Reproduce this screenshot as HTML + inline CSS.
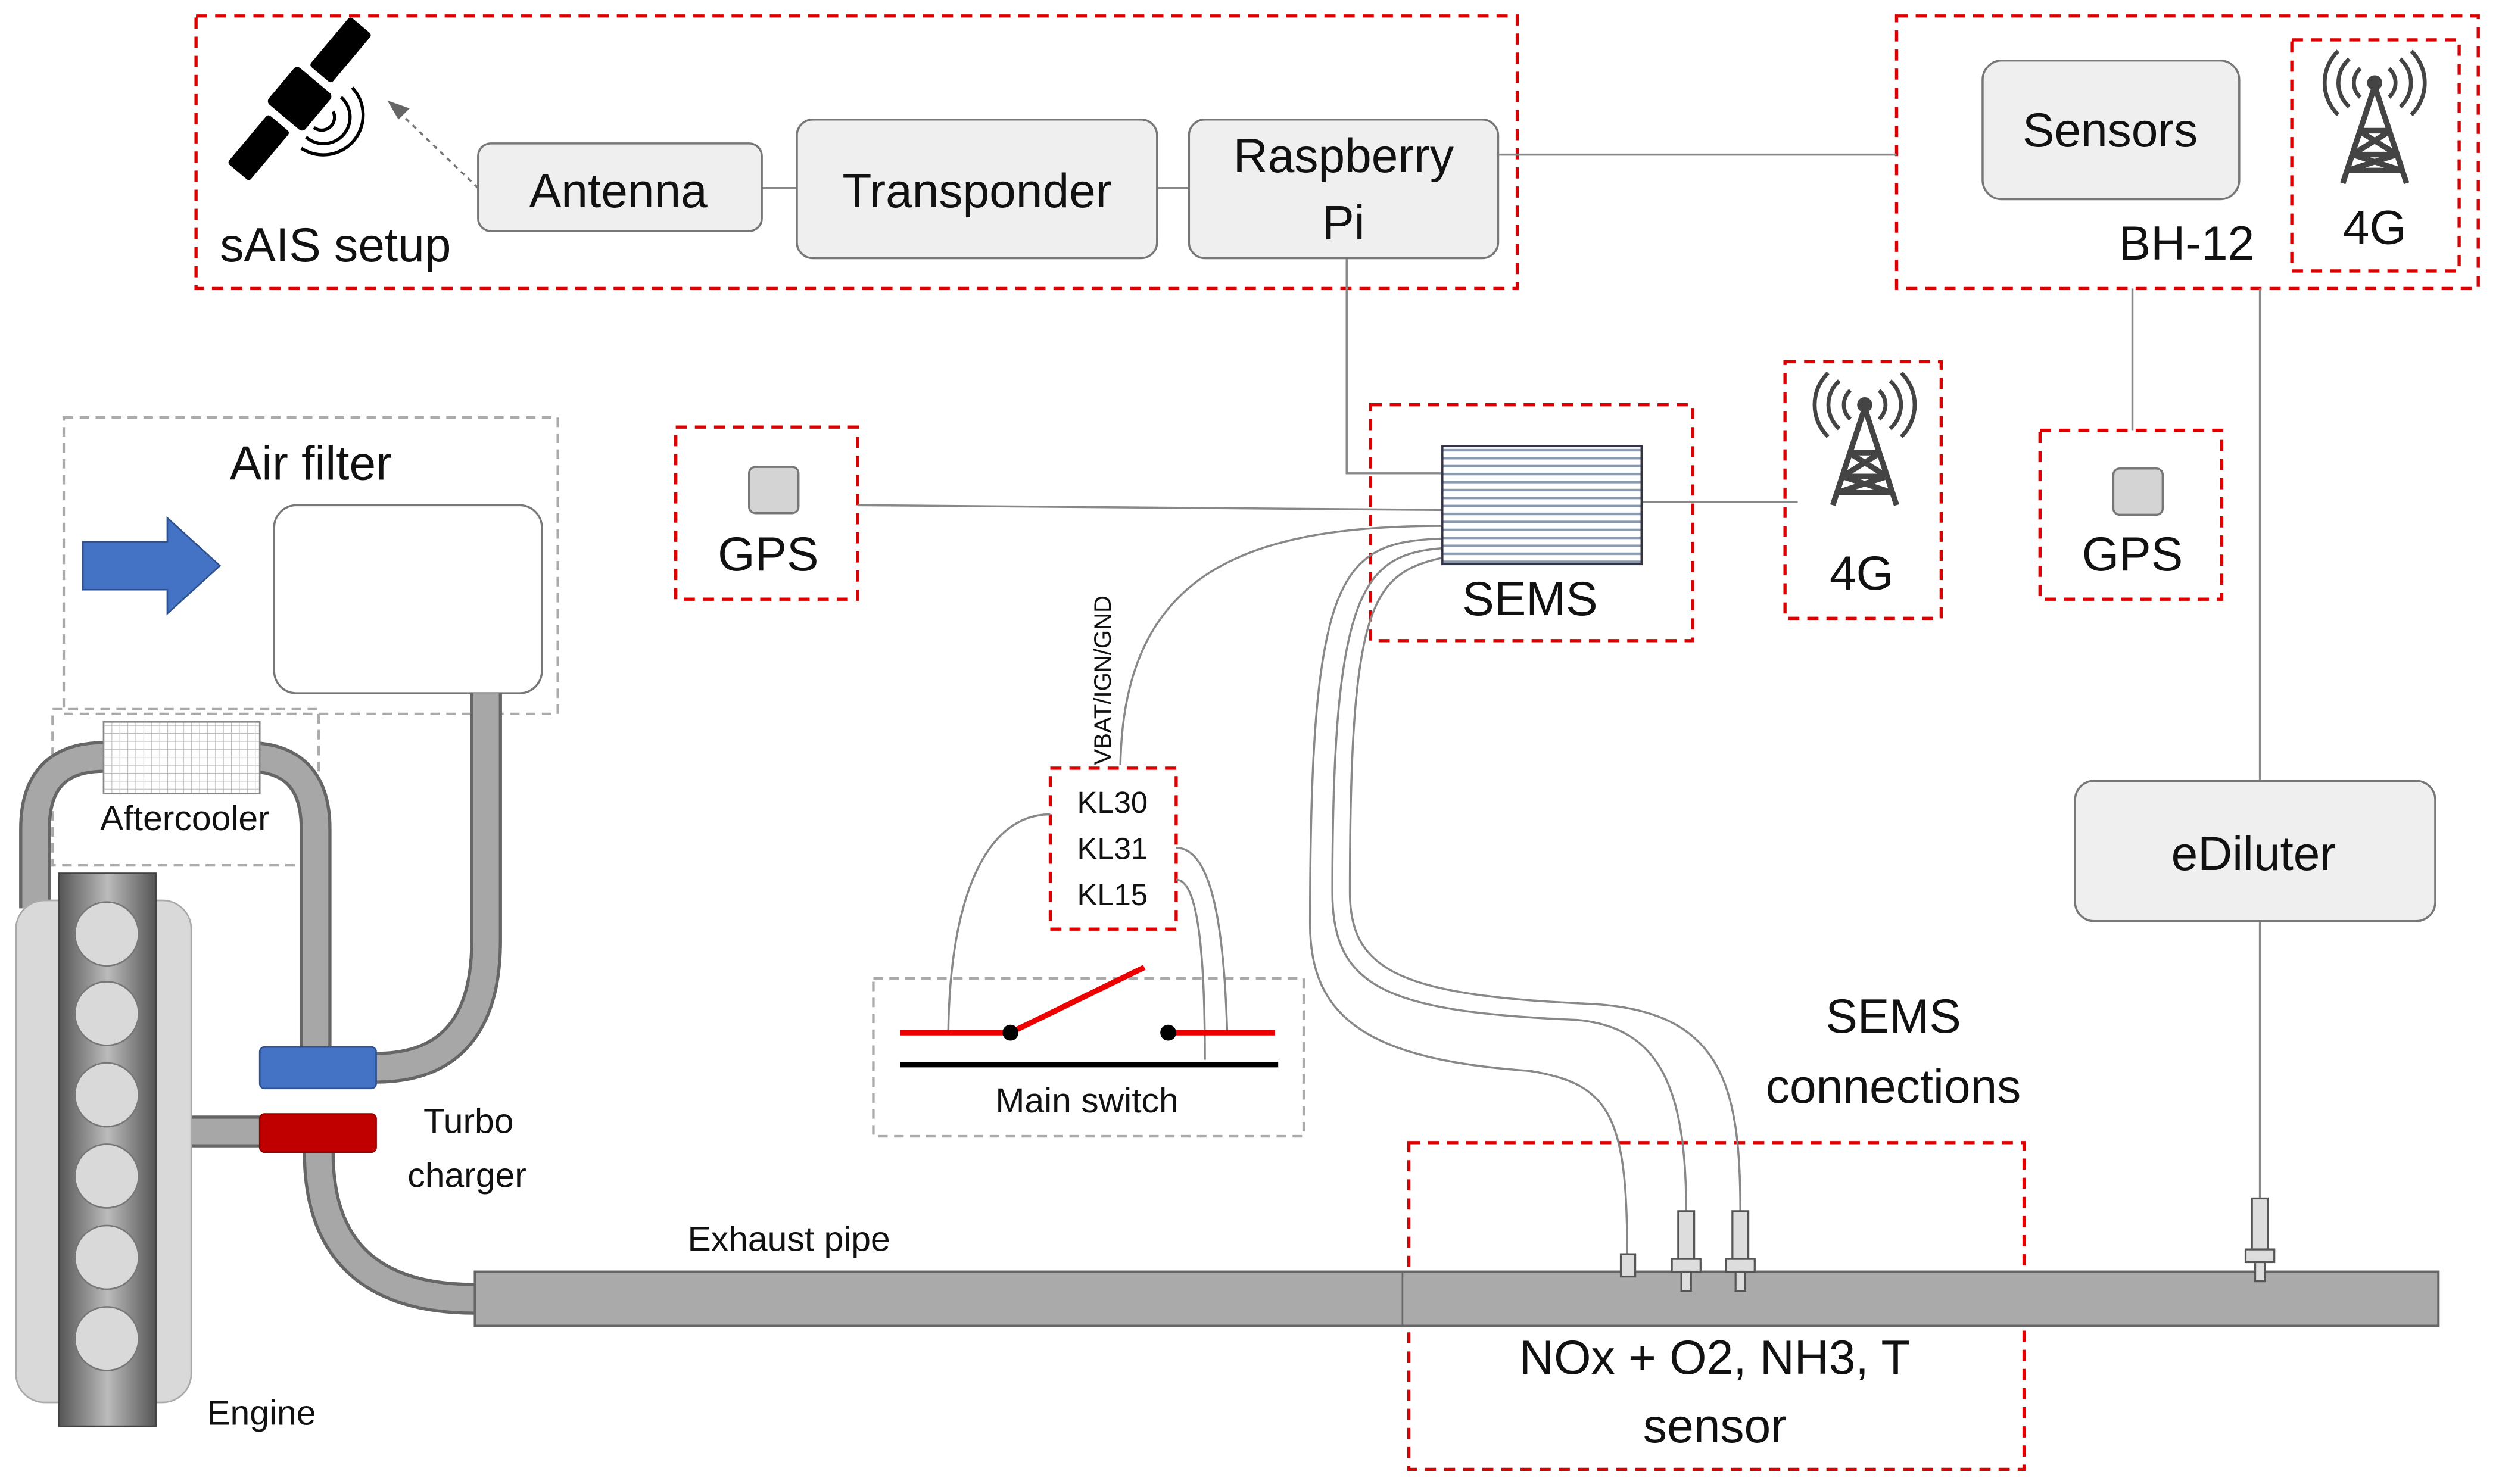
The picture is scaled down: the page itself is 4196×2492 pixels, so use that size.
<!DOCTYPE html>
<html><head><meta charset="utf-8"><style>
html,body{margin:0;padding:0;background:#fff;width:4196px;height:2492px;overflow:hidden}
svg{display:block}
text{font-family:"Liberation Sans","DejaVu Sans",sans-serif;fill:#111}
</style></head><body>
<svg width="4196" height="2492" viewBox="0 0 1568 931.2" preserveAspectRatio="none" xmlns="http://www.w3.org/2000/svg">
<defs>
<pattern id="mesh" width="5" height="5" patternUnits="userSpaceOnUse"><rect width="5" height="5" fill="#fff"/><path d="M0 0H5M0 0V5" stroke="#bbb" stroke-width="0.8"/></pattern>
<pattern id="stripe" width="10" height="5" patternUnits="userSpaceOnUse"><rect width="10" height="5" fill="#fff"/><path d="M0 2.5H10" stroke="#8a9ab0" stroke-width="1.6"/></pattern>
<linearGradient id="eng" x1="0" x2="1"><stop offset="0" stop-color="#555"/><stop offset="0.5" stop-color="#bbb"/><stop offset="1" stop-color="#555"/></linearGradient>
<g id="tower" fill="none" stroke="#444" stroke-width="3.5">
<path d="M0 -6 L-20 55 M0 -6 L20 55 M-14 37 L14 37 M-17 47 L17 47 M-10 22 L10 22 M-10 22 L14 37 M10 22 L-14 37 M-14 37 L17 47 M14 37 L-17 47"/>
<circle cx="0" cy="-8" r="3" fill="#444"/>
<path d="M-9 -17 A12 12 0 0 0 -9 1 M9 -17 A12 12 0 0 1 9 1 M-16 -23 A20 20 0 0 0 -16 7 M16 -23 A20 20 0 0 1 16 7 M-23 -28 A28 28 0 0 0 -23 12 M23 -28 A28 28 0 0 1 23 12" stroke-width="2.5"/>
</g>
</defs>
<g fill="none" stroke="#d00" stroke-width="2" stroke-dasharray="7,5">
<rect x="123" y="10" width="829" height="171"/>
<rect x="1190" y="10" width="365" height="171"/>
<rect x="1438" y="25" width="105" height="145"/>
<rect x="860" y="254" width="202" height="148"/>
<rect x="1120" y="227" width="98" height="161"/>
<rect x="424" y="268" width="114" height="108"/>
<rect x="1280" y="270" width="114" height="106"/>
<rect x="659" y="482" width="79" height="101"/>
<rect x="884" y="717" width="386" height="205"/>
</g>
<g fill="none" stroke="#aaa" stroke-width="1.6" stroke-dasharray="6,4">
<rect x="40" y="262" width="310" height="186"/>
<rect x="33" y="445" width="167" height="98"/>
<rect x="548" y="614" width="270" height="99"/>
</g>
<!-- connectors -->
<g fill="none" stroke="#888" stroke-width="1.3">
<path d="M478 118H500M726 118H746M940 97H1190M845 162V297H905M538 317L905 320M1030 315H1128M1338 181V270M1418 181V490M1418 578V760"/>
<path d="M905 330 C780 330 705 360 703 480"/>
<path d="M905 338 C840 340 822 360 822 580 C822 640 860 665 960 672 C1010 680 1021 700 1021 787"/>
<path d="M905 344 C855 348 836 370 836 560 C836 620 870 635 990 640 C1040 645 1058 680 1058 760"/>
<path d="M905 350 C860 360 847 380 847 560 C847 610 880 625 1000 630 C1080 635 1092 680 1092 760"/>
<path d="M659 511 C620 511 596 560 595 648M738 532 C760 532 768 580 770 648M738 552 C752 552 756 600 756 665"/>
</g>
<path d="M300 118 L250 70" stroke="#777" stroke-width="1.3" stroke-dasharray="3,3" fill="none"/>
<path d="M243 63 L257 68 L250 75Z" fill="#666"/>
<!-- satellite -->
<g transform="translate(188,62) rotate(-50)">
<rect x="-60" y="-9" width="40" height="18" rx="2" fill="#000"/>
<rect x="20" y="-9" width="40" height="18" rx="2" fill="#000"/>
<rect x="-15" y="-15" width="30" height="30" rx="3" fill="#000"/>
</g>
<g fill="none" stroke="#000" stroke-width="2"><path d="M209 70 a8 8 0 0 1 -12 10 M214 61 a16 16 0 0 1 -22 25 M221 55 a25 25 0 0 1 -32 38"/></g>
<!-- boxes -->
<g fill="#efefef" stroke="#777" stroke-width="1.3">
<rect x="300" y="90" width="178" height="55" rx="8"/>
<rect x="500" y="75" width="226" height="87" rx="10"/>
<rect x="746" y="75" width="194" height="87" rx="10"/>
<rect x="1244" y="38" width="161" height="87" rx="12"/>
<rect x="1302" y="490" width="226" height="88" rx="12"/>
<rect x="470" y="293" width="31" height="29" rx="4" fill="#d4d4d4"/>
<rect x="1326" y="294" width="31" height="29" rx="4" fill="#d4d4d4"/>
<rect x="172" y="317" width="168" height="118" rx="14" fill="#fff"/>
</g>
<rect x="905" y="280" width="125" height="74" fill="url(#stripe)" stroke="#334" stroke-width="1.3"/>
<use href="#tower" x="1490" y="60"/>
<use href="#tower" x="1170" y="262"/>
<path d="M52 340H105V325L138 355L105 385V370H52Z" fill="#4472c4" stroke="#2f528f"/>
<!-- pipes -->
<g fill="none" stroke="#666" stroke-width="20" stroke-linejoin="round"><path d="M305 435V590 Q305 670 236 670"/><path d="M198 657V520 Q198 475 155 475 H65 Q22 475 22 520V570"/><path d="M200 723 Q200 815 298 815"/><path d="M110 710H163"/></g>
<g fill="none" stroke="#a7a7a7" stroke-width="16" stroke-linejoin="round"><path d="M305 435V590 Q305 670 236 670"/><path d="M198 657V520 Q198 475 155 475 H65 Q22 475 22 520V570"/><path d="M200 723 Q200 815 298 815"/><path d="M110 710H163"/></g>
<rect x="298" y="798" width="1232" height="34" fill="#aaa" stroke="#666" stroke-width="1.5"/>
<line x1="880" y1="798" x2="880" y2="832" stroke="#666"/>
<rect x="65" y="453" width="98" height="45" fill="url(#mesh)" stroke="#888"/>
<rect x="10" y="565" width="110" height="315" rx="18" fill="#d9d9d9" stroke="#aaa"/>
<rect x="37" y="548" width="61" height="347" fill="url(#eng)" stroke="#444"/>
<g fill="#d9d9d9" stroke="#777"><circle cx="67" cy="586" r="20"/><circle cx="67" cy="636" r="20"/><circle cx="67" cy="687" r="20"/><circle cx="67" cy="738" r="20"/><circle cx="67" cy="789" r="20"/><circle cx="67" cy="840" r="20"/></g>
<rect x="163" y="657" width="73" height="26" rx="3" fill="#4472c4" stroke="#2f528f"/>
<rect x="163" y="699" width="73" height="24" rx="3" fill="#c00000" stroke="#900"/>
<!-- sensors -->
<g fill="#ddd" stroke="#555" stroke-width="1.2">
<rect x="1017" y="787" width="9" height="14"/>
<rect x="1053" y="760" width="10" height="30"/><rect x="1049" y="790" width="18" height="8"/><rect x="1055" y="798" width="6" height="12"/>
<rect x="1087" y="760" width="10" height="30"/><rect x="1083" y="790" width="18" height="8"/><rect x="1089" y="798" width="6" height="12"/>
<rect x="1413" y="752" width="10" height="32"/><rect x="1409" y="784" width="18" height="8"/><rect x="1415" y="792" width="6" height="12"/>
</g>
<!-- switch -->
<g stroke-width="3.5"><path d="M565 648H634L718 607M733 648H800" stroke="#e00" fill="none"/><path d="M565 668H802" stroke="#000"/></g>
<circle cx="634" cy="648" r="5"/><circle cx="733" cy="648" r="5"/>
<!-- text -->
<g font-size="30"><text x="388" y="130" text-anchor="middle">Antenna</text><text x="613" y="130" text-anchor="middle">Transponder</text><text x="843" y="108" text-anchor="middle">Raspberry</text><text x="843" y="150" text-anchor="middle">Pi</text><text x="138" y="164">sAIS setup</text><text x="1324" y="92" text-anchor="middle">Sensors</text><text x="1372" y="163" text-anchor="middle">BH-12</text><text x="1490" y="153" text-anchor="middle">4G</text><text x="960" y="386" text-anchor="middle">SEMS</text><text x="1168" y="370" text-anchor="middle">4G</text><text x="482" y="358" text-anchor="middle">GPS</text><text x="1338" y="358" text-anchor="middle">GPS</text><text x="1414" y="546" text-anchor="middle">eDiluter</text><text x="195" y="301" text-anchor="middle">Air filter</text><text x="1188" y="648" text-anchor="middle">SEMS</text><text x="1188" y="692" text-anchor="middle">connections</text><text x="1076" y="862" text-anchor="middle">NOx + O2, NH3, T</text><text x="1076" y="905" text-anchor="middle">sensor</text></g>
<g font-size="22"><text x="116" y="521" text-anchor="middle">Aftercooler</text><text x="294" y="711" text-anchor="middle">Turbo</text><text x="293" y="745" text-anchor="middle">charger</text><text x="164" y="894" text-anchor="middle">Engine</text><text x="495" y="785" text-anchor="middle">Exhaust pipe</text><text x="682" y="698" text-anchor="middle">Main switch</text></g>
<g font-size="19"><text x="698" y="510" text-anchor="middle">KL30</text><text x="698" y="539" text-anchor="middle">KL31</text><text x="698" y="568" text-anchor="middle">KL15</text></g>
<text font-size="15" transform="translate(697,480) rotate(-90)">VBAT/IGN/GND</text>
</svg>
</body></html>
